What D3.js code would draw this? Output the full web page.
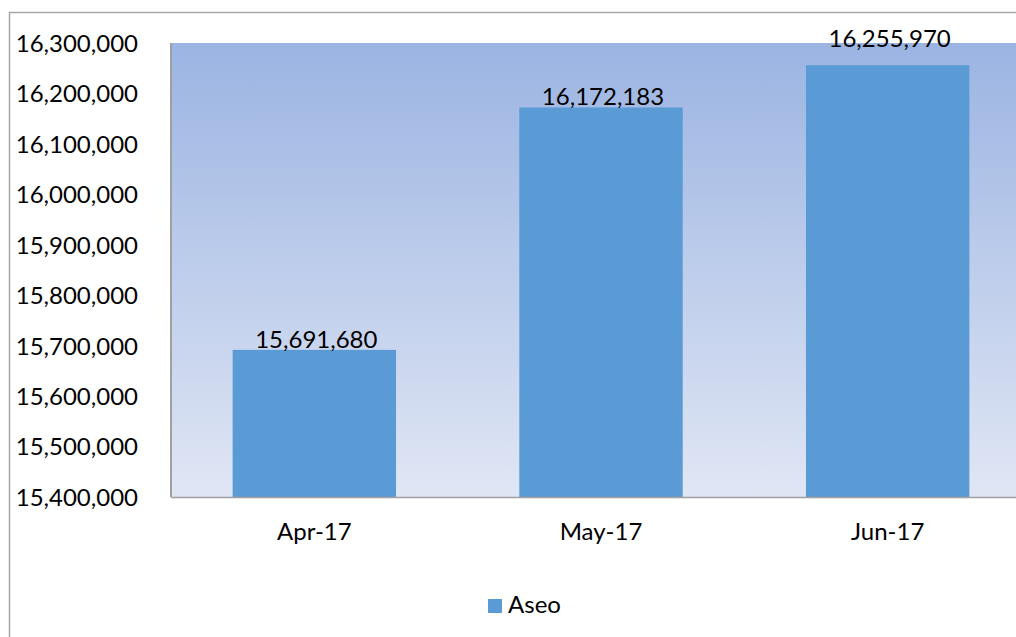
<!DOCTYPE html>
<html><head><meta charset="utf-8">
<script src="https://cdn.jsdelivr.net/npm/d3@7"></script>
<style>html,body{margin:0;padding:0;background:#fff;overflow:hidden}</style>
</head><body>
<svg id="c" width="1016" height="637"></svg>
<script>
const categories = ["Apr-17", "May-17", "Jun-17"];
const values = [15691680, 16172183, 16255970];
const seriesName = "Aseo";
const yTicks = [15400000,15500000,15600000,15700000,15800000,15900000,16000000,16100000,16200000,16300000];

const W = 1016, H = 637;
const font = "Lato, 'Liberation Sans', sans-serif";
const svg = d3.select("#c");
const m = {left:171, top:43, right:1031, bottom:497};

// outer chart border
svg.append("rect").attr("x",9.5).attr("y",12.5).attr("width",W+20).attr("height",H+20)
  .attr("fill","#fff").attr("stroke","#A6A6A6").attr("stroke-width",1.5);

const defs = svg.append("defs");
const g = defs.append("linearGradient").attr("id","bg").attr("x1",0).attr("y1",0).attr("x2",0).attr("y2",1);
g.append("stop").attr("offset","0%").attr("stop-color","#9BB4E2");
g.append("stop").attr("offset","100%").attr("stop-color","#E0E6F4");

const x = d3.scaleBand().domain(categories).range([m.left, m.right]).paddingInner(0.43).paddingOuter(0.215);
const y = d3.scaleLinear().domain([15400000, 16300000]).range([m.bottom, m.top]);

svg.append("rect").attr("x",m.left).attr("y",m.top).attr("width",m.right-m.left).attr("height",m.bottom-m.top)
  .attr("fill","url(#bg)");

svg.selectAll("rect.bar").data(values).join("rect").attr("class","bar")
  .attr("x",(d,i)=>x(categories[i])).attr("width",x.bandwidth())
  .attr("y",d=>y(d)).attr("height",d=>m.bottom-y(d)).attr("fill","#5B9BD5");

// axes lines
svg.append("line").attr("x1",m.left).attr("x2",m.left).attr("y1",m.top).attr("y2",m.bottom)
  .attr("stroke","#A0A0A0").attr("stroke-width",2);
svg.append("line").attr("x1",m.left).attr("x2",W).attr("y1",m.bottom+0.5).attr("y2",m.bottom+0.5)
  .attr("stroke","#A0A0A0").attr("stroke-width",1.5);

const fmt = d3.format(",");
// y axis labels
const yAxis = d3.axisLeft(y).tickValues(yTicks).tickFormat(fmt).tickSize(0).tickPadding(33);
const ya = svg.append("g").attr("transform",`translate(${m.left},0)`).call(yAxis);
ya.select(".domain").remove();
ya.selectAll("text").attr("font-family",font).attr("font-size",24).attr("fill","#000").attr("dy","0.35em");

// x axis labels
const xAxis = d3.axisBottom(x).tickSize(0).tickPadding(26);
const xa = svg.append("g").attr("transform",`translate(0,${m.bottom})`).call(xAxis);
xa.select(".domain").remove();
xa.selectAll("text").attr("font-family",font).attr("font-size",24).attr("fill","#000").attr("dy","0.71em");

// value labels
svg.selectAll("text.val").data(values).join("text").attr("class","val")
  .attr("x",(d,i)=>x(categories[i])+x.bandwidth()/2+2)
  .attr("y",d=>{let b=y(d)-2; if(b-22<m.top) b-=16; return b;})
  .attr("text-anchor","middle").attr("font-family",font).attr("font-size",24).attr("fill","#000")
  .text(d=>fmt(d));

// legend
const lg = svg.append("g").attr("transform","translate(488,599)");
lg.append("rect").attr("width",14).attr("height",14).attr("fill","#5B9BD5");
lg.append("text").attr("x",20).attr("y",14).attr("font-family",font).attr("font-size",24).attr("fill","#000").text(seriesName);
</script>
</body></html>
